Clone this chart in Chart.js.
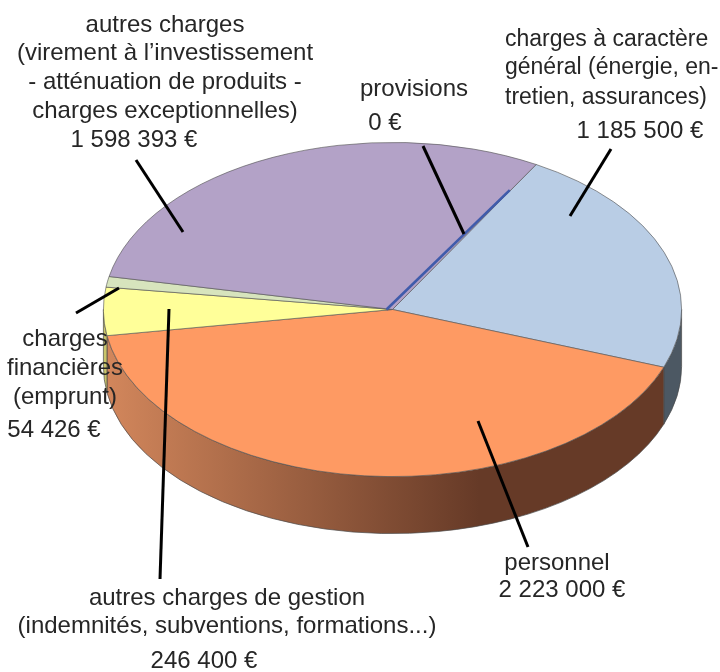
<!DOCTYPE html>
<html lang="fr">
<head>
<meta charset="utf-8">
<style>html,body{margin:0;padding:0;background:#fff}canvas{display:block}</style>
<script src="https://cdn.jsdelivr.net/npm/chart.js@4/dist/chart.umd.js"></script>
</head>
<body>
<canvas id="c" width="720" height="672"></canvas>
<script>
const categories = ["charges à caractère général", "personnel", "autres charges de gestion", "charges financières", "autres charges", "provisions"];
const values = [1185500, 2223000, 246400, 54426, 1598393, 0];
const sliceColors = ["#b9cde5", "#fe9a63", "#ffff99", "#d7e4bd", "#b3a2c7", "#3f5bab"];

// Presentation: tilt and extrusion of the pie, call-outs
const TILT = 0.578, DEPTH = 57, START_DEG = 29.8;
const wallStops = [
  [["0", "#4c5863"], ["1", "#4c5863"]],
  [["0", "#d3875c"], ["0.65", "#663a27"], ["1", "#663a27"]],
  [["0", "#c9c56a"], ["1", "#c9c56a"]],
  [["0", "#aab398"], ["1", "#aab398"]],
  [["0", "#7d7189"], ["1", "#7d7189"]],
  [["0", "#2c3f77"], ["1", "#2c3f77"]]
];
const labels = [
  ["autres charges", 165, 25], ["(virement à l’investissement", 165, 53], ["- atténuation de produits -", 165, 82],
  ["charges exceptionnelles)", 165, 111], ["1 598 393 €", 134, 140],
  ["provisions", 414, 89], ["0 €", 385, 123],
  ["charges à caractère", 505, 40, 23, "left"], ["général (énergie, en-", 505, 68, 23, "left"], ["tretien, assurances)", 505, 98, 23, "left"], ["1 185 500 €", 640, 131],
  ["personnel", 557, 563], ["2 223 000 €", 562, 590],
  ["autres charges de gestion", 227, 598], ["(indemnités, subventions, formations...)", 227, 626], ["246 400 €", 204, 661],
  ["charges", 65, 339], ["financières", 65, 368], ["(emprunt)", 65, 397], ["54 426 €", 54, 430]
];
const leaders = [
  [136, 160, 183, 232], [423, 146, 464, 234], [611, 149, 570, 216],
  [478, 421, 528, 547], [169, 309, 160, 579], [119, 288, 76, 313]
];

const tiltPlugin = {
  id: "tilt",
  beforeDatasetsDraw(chart) {
    const ctx = chart.ctx, arcs = chart.getDatasetMeta(0).data;
    const cx = arcs[0].x, cy = arcs[0].y, R = arcs[0].outerRadius, ry = R * TILT;
    // side walls, only where the rim faces the viewer
    arcs.forEach((a, i) => {
      const two = Math.PI * 2;
      let s = a.startAngle, e = a.endAngle;
      while (s < 0) { s += two; e += two; }
      while (s >= two) { s -= two; e -= two; }
      [[s, e], [s - two, e - two]].forEach(([p, q]) => {
        const from = Math.max(p, 0), to = Math.min(q, Math.PI);
        if (to <= from) return;
        const g = ctx.createLinearGradient(cx - R, 0, cx + R, 0);
        wallStops[i].forEach(st => g.addColorStop(+st[0], st[1]));
        ctx.beginPath();
        ctx.ellipse(cx, cy, R, ry, 0, from, to);
        ctx.ellipse(cx, cy + DEPTH, R, ry, 0, to, from, true);
        ctx.closePath();
        ctx.fillStyle = g;
        ctx.strokeStyle = "#4a4a4a";
        ctx.lineWidth = 0.7;
        ctx.fill();
        ctx.stroke();
      });
    });
    ctx.save();
    ctx.translate(cx, cy);
    ctx.scale(1, TILT);
    ctx.translate(-cx, -cy);
  },
  afterDatasetsDraw(chart) {
    const ctx = chart.ctx;
    ctx.restore();
    const arcs = chart.getDatasetMeta(0).data;
    // zero-valued slice shows as a thin line along its angle
    const z = arcs[arcs.length - 1], r = z.outerRadius * 0.83;
    ctx.beginPath();
    ctx.moveTo(z.x - 6, z.y);
    ctx.lineTo(z.x + r * Math.cos(z.startAngle) - 2, z.y + r * TILT * Math.sin(z.startAngle) + 1);
    ctx.strokeStyle = sliceColors[5];
    ctx.lineWidth = 2.6;
    ctx.stroke();
    // call-outs
    ctx.strokeStyle = "#000";
    ctx.lineWidth = 3;
    leaders.forEach(l => {
      ctx.beginPath();
      ctx.moveTo(l[0], l[1]);
      ctx.lineTo(l[2], l[3]);
      ctx.stroke();
    });
    ctx.fillStyle = "#262626";
    ctx.textBaseline = "middle";
    labels.forEach(t => {
      ctx.font = (t[3] || 24) + 'px "Liberation Sans", Arial, sans-serif';
      ctx.textAlign = t[4] || "center";
      ctx.fillText(t[0], t[1], t[2]);
    });
  }
};

new Chart(document.getElementById("c"), {
  type: "doughnut",
  data: {
    labels: categories,
    datasets: [{
      data: values,
      backgroundColor: sliceColors,
      borderColor: "#555555",
      borderWidth: 0.8,
      hoverOffset: 0
    }]
  },
  options: {
    responsive: false,
    animation: false,
    cutout: 0,
    rotation: START_DEG,
    layout: { padding: { left: 103, right: 38, top: 20, bottom: 73 } },
    plugins: { legend: { display: false }, tooltip: { enabled: false } }
  },
  plugins: [tiltPlugin]
});
</script>
</body>
</html>
